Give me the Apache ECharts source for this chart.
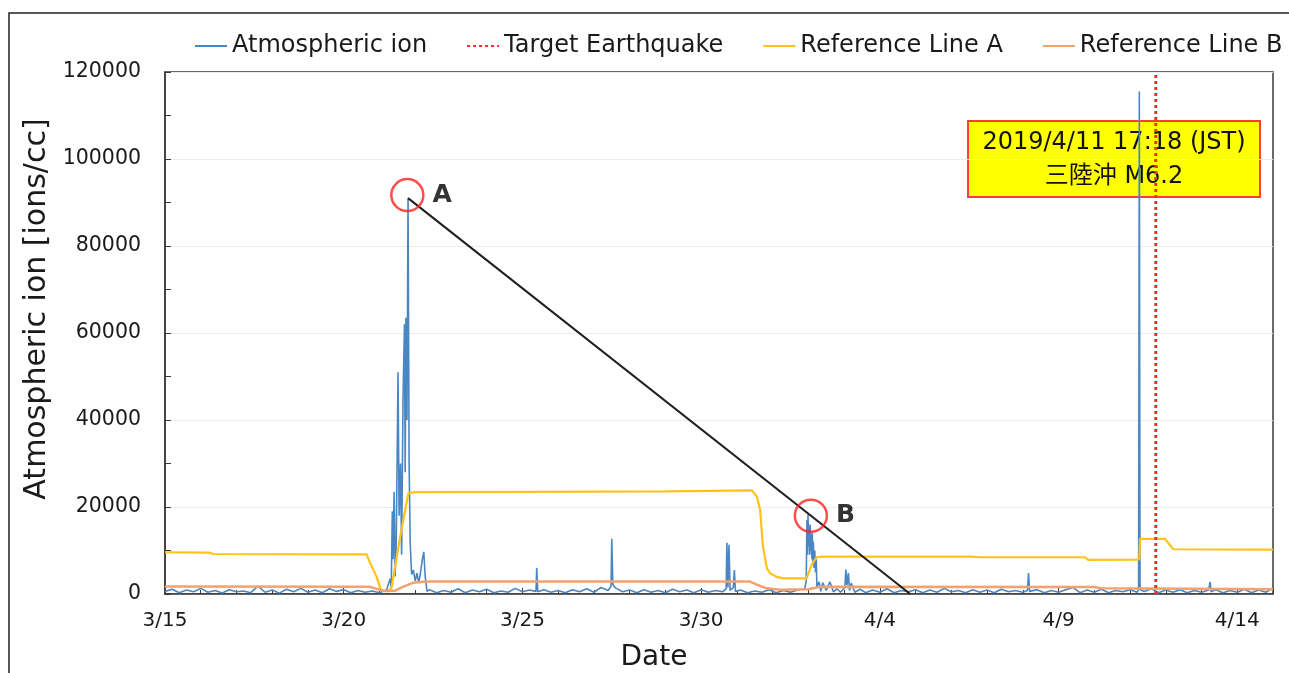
<!DOCTYPE html>
<html>
<head>
<meta charset="utf-8">
<script src="https://cdn.jsdelivr.net/npm/echarts@6/dist/echarts.min.js"></script>
<style>
  html, body { margin: 0; padding: 0; background: #fff; }
  #chart { width: 1289px; height: 673px; }
</style>
</head>
<body>
<div id="chart"></div>
<script>
// x values are days since 3/15 00:00
const dateLabels = ["3/15", "3/20", "3/25", "3/30", "4/4", "4/9", "4/14"];
const seriesNames = ["Atmospheric ion", "Target Earthquake", "Reference Line A", "Reference Line B"];

const ionPoints = [
  [0, 600], [0.2, 1100], [0.4, 300], [0.6, 900], [0.8, 500], [1.0, 1300], [1.2, 400], [1.4, 800],
  [1.6, 250], [1.8, 1000], [2.0, 500], [2.2, 700], [2.4, 300], [2.6, 1800], [2.8, 400], [3.0, 900],
  [3.2, 200], [3.4, 1100], [3.6, 500], [3.8, 1300], [4.0, 400], [4.2, 900], [4.4, 300], [4.6, 1200],
  [4.8, 600], [5.0, 1000], [5.2, 300], [5.4, 800], [5.6, 400], [5.8, 700], [6.0, 300], [6.2, 900],
  [6.26, 2500], [6.30, 3500], [6.33, 1500], [6.36, 19000], [6.38, 8000], [6.41, 23500], [6.44, 4000],
  [6.47, 12000], [6.52, 51000], [6.55, 18000], [6.59, 30000], [6.62, 9000], [6.66, 45000], [6.70, 62000],
  [6.72, 28000], [6.74, 63500], [6.77, 40000], [6.80, 91000], [6.83, 30000], [6.86, 12000], [6.90, 4500],
  [6.95, 5500], [7.00, 3000], [7.05, 4800], [7.10, 2500], [7.15, 5000], [7.20, 8000], [7.24, 9700],
  [7.28, 4000], [7.33, 600],
  [7.4, 1000], [7.6, 300], [7.8, 800], [8.0, 400], [8.2, 1200], [8.4, 300], [8.6, 900], [8.8, 500],
  [9.0, 1100], [9.2, 300], [9.4, 700], [9.6, 400], [9.8, 1300], [10.0, 500], [10.2, 900],
  [10.38, 600], [10.40, 6000], [10.43, 500],
  [10.6, 1000], [10.8, 400], [11.0, 800], [11.2, 300], [11.4, 1000], [11.6, 500], [11.8, 1200], [12.0, 400],
  [12.2, 1500], [12.4, 800], [12.48, 1800], [12.50, 12700], [12.53, 2200], [12.6, 1400], [12.8, 500],
  [13.0, 900], [13.2, 300], [13.4, 1000], [13.6, 400], [13.8, 800], [14.0, 300], [14.2, 1100], [14.4, 500],
  [14.6, 900], [14.8, 300], [15.0, 1000], [15.2, 400], [15.4, 800], [15.6, 500],
  [15.70, 1200], [15.72, 11800], [15.75, 1500], [15.78, 11300], [15.81, 800], [15.9, 1500], [15.93, 5500],
  [15.96, 600],
  [16.1, 900], [16.3, 300], [16.5, 700], [16.7, 400], [16.9, 1000], [17.1, 300], [17.3, 800], [17.5, 400],
  [17.7, 900], [17.9, 1200],
  [17.94, 3000], [17.96, 17000], [17.98, 9000], [17.99, 18300], [18.01, 11000], [18.02, 15500], [18.04, 9000],
  [18.05, 16000], [18.07, 10000], [18.08, 13500], [18.10, 8000], [18.11, 14000], [18.13, 7000], [18.14, 12000],
  [18.16, 6000], [18.18, 10000], [18.20, 5000], [18.22, 8000], [18.24, 1500],
  [18.3, 2800], [18.35, 600], [18.4, 2600], [18.5, 800], [18.6, 2800], [18.7, 500], [18.8, 1200], [18.9, 400],
  [19.02, 1500], [19.05, 5600], [19.08, 2000], [19.12, 4800], [19.15, 800], [19.2, 2500], [19.3, 400],
  [19.45, 1100],
  [19.6, 300], [19.8, 900], [20.0, 400], [20.2, 1200], [20.4, 300], [20.6, 800], [20.8, 500], [21.0, 1000],
  [21.2, 300], [21.4, 900], [21.6, 400], [21.8, 1300], [22.0, 500], [22.2, 800], [22.4, 300], [22.6, 1000],
  [22.8, 400], [23.0, 900], [23.2, 300], [23.4, 1100], [23.6, 500], [23.8, 800], [24.0, 400],
  [24.13, 800], [24.16, 4800], [24.19, 600],
  [24.4, 1000], [24.6, 300], [24.8, 800], [25.0, 400], [25.2, 1000], [25.4, 1500], [25.6, 300], [25.8, 900],
  [26.0, 400], [26.2, 1100], [26.4, 300], [26.6, 800], [26.8, 500], [27.0, 1000], [27.2, 400],
  [27.24, 1200], [27.26, 115500], [27.28, 1000],
  [27.4, 600], [27.6, 1200], [27.8, 300], [28.0, 900], [28.2, 400], [28.4, 1000], [28.6, 300], [28.8, 800],
  [29.0, 400], [29.2, 900], [29.24, 2800], [29.27, 500], [29.4, 1000], [29.6, 300], [29.8, 800], [30.0, 400],
  [30.2, 1100], [30.4, 300], [30.6, 900], [30.8, 400], [31.0, 1400],
];

const refAPoints = [
  [0, 9600], [1.25, 9500], [1.35, 9200], [5.64, 9100], [5.74, 7100], [5.92, 4000], [6.02, 1400], [6.10, 700],
  [6.24, 600], [6.34, 1500], [6.58, 13200], [6.81, 23200], [7.0, 23400], [10, 23500], [14, 23600],
  [16.42, 23800], [16.56, 22400], [16.65, 19350], [16.73, 10900], [16.84, 5900], [16.93, 4770], [17.10, 4000],
  [17.30, 3600], [17.95, 3600], [18.09, 6700], [18.23, 8450], [18.4, 8600], [22.57, 8600], [22.8, 8450],
  [25.74, 8450], [25.83, 7830], [27.19, 7900], [27.26, 7990], [27.28, 12670], [27.98, 12670], [28.21, 10290],
  [31, 10200],
];

const refBPoints = [
  [0, 1700], [5.74, 1650], [6.10, 760], [6.44, 760], [6.67, 1700], [6.95, 2600], [7.3, 2850], [16.37, 2850],
  [16.6, 2000], [16.84, 1300], [17.21, 1000], [18.0, 1100], [18.33, 1650], [26.0, 1600], [26.2, 1300],
  [31, 1100],
];

// 2019/4/11 17:18 JST
const quakeDay = 27.72;
const quakePoints = [[quakeDay, 0], [quakeDay, 120000]];

// line drawn from peak A down through B to the axis
const trendPoints = [[6.80, 91000], [20.85, 0]];
const markedPoints = [
  { value: [6.78, 91700], label: "A" },
  { value: [18.07, 18000], label: "B" },
];

const font = "DejaVu Sans, 'Noto Sans CJK JP', sans-serif";
const ink = "#1a1a1a";
const frame = "#3a3a3a";

const option = {
  animation: false,
  backgroundColor: "#fff",
  textStyle: { fontFamily: font, color: ink },
  grid: { left: 165, right: 16, top: 72, bottom: 79, show: true, borderColor: frame, borderWidth: 1.5 },
  legend: {
    data: seriesNames,
    left: 189,
    top: 29,
    itemWidth: 32,
    itemHeight: 14,
    itemGap: 39,
    itemStyle: { opacity: 0 },
    textStyle: { fontSize: 24, color: ink, fontFamily: font },
  },
  xAxis: {
    type: "value",
    min: 0,
    max: 31,
    interval: 5,
    axisLine: { lineStyle: { color: frame, width: 1.5 } },
    axisTick: { inside: true, length: 6, lineStyle: { color: frame } },
    minorTick: { show: true, splitNumber: 5, length: 4, lineStyle: { color: frame } },
    splitLine: { show: false },
    axisLabel: {
      fontSize: 20,
      color: ink,
      margin: 17,
      formatter: (v) => (v % 5 === 0 ? dateLabels[v / 5] : ""),
    },
  },
  yAxis: {
    type: "value",
    min: 0,
    max: 120000,
    interval: 20000,
    axisLine: { show: true, lineStyle: { color: frame, width: 1.5 } },
    axisTick: { show: true, inside: true, length: 6, lineStyle: { color: frame } },
    minorTick: { show: true, splitNumber: 2, length: 6, lineStyle: { color: frame } },
    splitLine: { lineStyle: { color: "#ececec" } },
    axisLabel: { fontSize: 20.5, color: ink, margin: 24, formatter: (v) => String(v) },
  },
  series: [
    {
      name: seriesNames[0],
      type: "line",
      data: ionPoints,
      symbol: "none",
      lineStyle: { width: 1.6, color: "#4a86c4" },
      itemStyle: { color: "#4a86c4" },
      z: 2,
    },
    {
      name: seriesNames[1],
      type: "line",
      data: quakePoints,
      symbol: "none",
      lineStyle: { width: 3, color: "#ff2b2b", type: [3, 3] },
      itemStyle: { color: "#ff2b2b" },
      z: 4,
    },
    {
      name: seriesNames[2],
      type: "line",
      data: refAPoints,
      symbol: "none",
      lineStyle: { width: 2.2, color: "#ffc21a" },
      itemStyle: { color: "#ffc21a" },
      z: 3,
    },
    {
      name: seriesNames[3],
      type: "line",
      data: refBPoints,
      symbol: "none",
      lineStyle: { width: 2.5, color: "#f3a26e" },
      itemStyle: { color: "#f3a26e" },
      z: 3,
    },
    {
      name: "trend",
      type: "line",
      data: trendPoints,
      symbol: "none",
      lineStyle: { width: 2, color: "#1e1e1e" },
      z: 5,
    },
    {
      name: "marks",
      type: "scatter",
      data: markedPoints.map((p) => ({ value: p.value, label: { formatter: p.label } })),
      symbol: "circle",
      symbolSize: 32,
      itemStyle: { color: "rgba(0,0,0,0)", borderColor: "#ff2020", borderWidth: 2.5 },
      label: { show: true, position: "right", distance: 8, fontSize: 25, fontWeight: "bold", color: "#000" },
      z: 6,
    },
  ],
  graphic: [
    {
      type: "rect",
      z: 100,
      shape: { x: 9, y: 13, width: 1320, height: 700 },
      style: { fill: "none", stroke: "#222", lineWidth: 1.5 },
      silent: true,
    },
    {
      // axis titles, placed where the original figure has them
      type: "text",
      z: 100,
      x: 37,
      y: 309,
      rotation: Math.PI / 2,
      style: {
        text: "Atmospheric ion [ions/cc]",
        font: "30px " + font,
        fill: ink,
        align: "center",
        verticalAlign: "middle",
      },
    },
    {
      type: "text",
      z: 100,
      x: 654,
      y: 658,
      style: { text: "Date", font: "28px " + font, fill: ink, align: "center", verticalAlign: "middle" },
    },
    {
      type: "group",
      z: 100,
      children: [
        {
          type: "rect",
          shape: { x: 968, y: 121, width: 292, height: 76 },
          style: { fill: "#ffff00", stroke: "#ff3b3b", lineWidth: 2 },
        },
        {
          type: "text",
          x: 1114,
          y: 160,
          style: {
            text: "2019/4/11 17:18 (JST)\n三陸沖 M6.2",
            font: "24px " + font,
            fill: "#111",
            align: "center",
            verticalAlign: "middle",
            lineHeight: 34,
          },
        },
      ],
    },
  ],
};

const chart = echarts.init(document.getElementById("chart"), null, { renderer: "canvas" });
chart.setOption(option);
</script>
</body>
</html>
